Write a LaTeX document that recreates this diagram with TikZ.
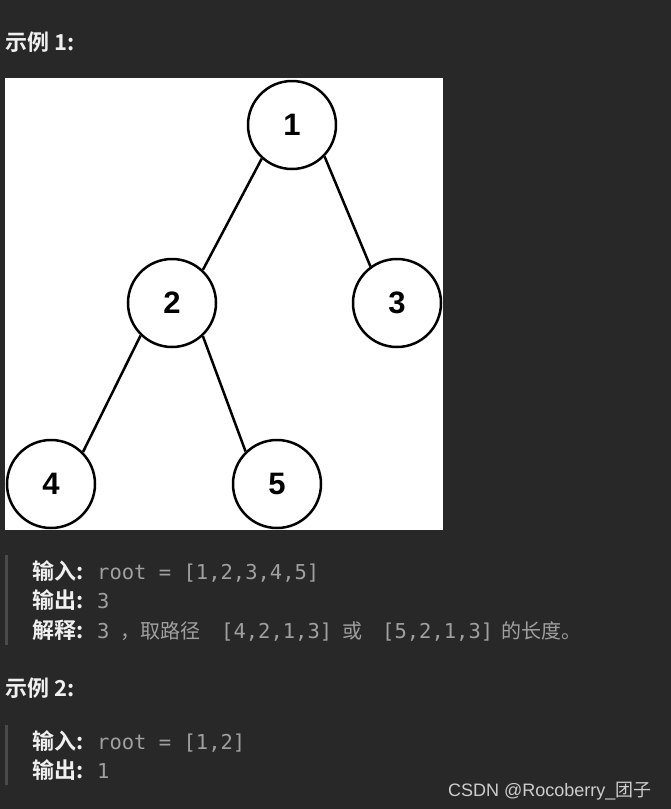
\documentclass[tikz,border=0pt]{standalone}
\usepackage{fontspec}
\setmainfont{Liberation Sans}
\setmonofont{DejaVu Sans Mono}
\newfontfamily\cjk[BoldFont={Noto Sans CJK SC Bold}]{Noto Sans CJK SC}
\usetikzlibrary{positioning}
\definecolor{pagebg}{RGB}{40,40,40}
\definecolor{quotebar}{RGB}{74,74,74}
\definecolor{codegray}{RGB}{160,160,160}
\definecolor{labelwhite}{RGB}{240,240,240}
\definecolor{markgray}{RGB}{205,205,205}

\begin{document}
\begin{tikzpicture}[x=1pt, y=-1pt,
    treenode/.style={circle, draw=black, line width=2.5pt, fill=white, minimum size=88pt, inner sep=0pt, font=\fontsize{31}{31}\selectfont\bfseries},
    treeedge/.style={line width=2.5pt, black},
    heading/.style={anchor=base west, inner sep=0pt, text=labelwhite, font=\cjk\fontsize{22}{22}\selectfont\bfseries},
    code/.style={anchor=base west, inner sep=0pt, text=codegray, font=\ttfamily\fontsize{20.5}{20.5}\selectfont},
    plain/.style={anchor=base west, inner sep=0pt, text=codegray, font=\cjk\fontsize{20}{20}\selectfont}]
    % Page
    \fill[pagebg] (0,0) rectangle (671,809);
    \useasboundingbox (0,0) rectangle (671,809);

    % Example 1
    \node[heading] (title1) at (5,50) {示例 1:};
    \fill[white] (5,78) rectangle (443,530);

    % Tree
    \node[treenode] (n1) at (292,125) {1};
    \node[treenode] (n2) at (172,303) {2};
    \node[treenode] (n3) at (397,303) {3};
    \node[treenode] (n4) at (51,484) {4};
    \node[treenode] (n5) at (277,484) {5};
    \draw[treeedge] (n1.228) -- (n2.47);
    \draw[treeedge] (n1.316) -- (n3.126);
    \draw[treeedge] (n2.226) -- (n4.45);
    \draw[treeedge] (n2.313) -- (n5.134);

    % Answer block 1
    \fill[quotebar] (5,555) rectangle (8,645);
    \node[heading] (in1) at (32,579) {输入:};
    \node[code] (in1v) at (97,579) {root = [1,2,3,4,5]};
    \node[heading] (out1) at (32,608) {输出:};
    \node[code] (out1v) at (97,608) {3};
    \node[heading] (why1) at (32,638) {解释:};
    \node[code] (why1a) at (97,638) {3};
    \node[plain] (why1b) at (120,638) {，取路径};
    \node[code] (why1c) at (221,638) {[4,2,1,3]};
    \node[plain] (why1d) at (342,638) {或};
    \node[code] (why1e) at (382,638) {[5,2,1,3]};
    \node[plain] (why1f) at (501,638) {的长度。};

    % Example 2
    \node[heading] (title2) at (5,696) {示例 2:};
    \fill[quotebar] (5,725) rectangle (8,785);
    \node[heading] (in2) at (32,749) {输入:};
    \node[code] (in2v) at (97,749) {root = [1,2]};
    \node[heading] (out2) at (32,778) {输出:};
    \node[code] (out2v) at (97,778) {1};

    % Watermark
    \node[anchor=base west, inner sep=0pt, text=markgray, font=\fontsize{18}{18}\selectfont] (mark) at (448,796) {CSDN @Rocoberry\_{\cjk 团子}};
\end{tikzpicture}
\end{document}
